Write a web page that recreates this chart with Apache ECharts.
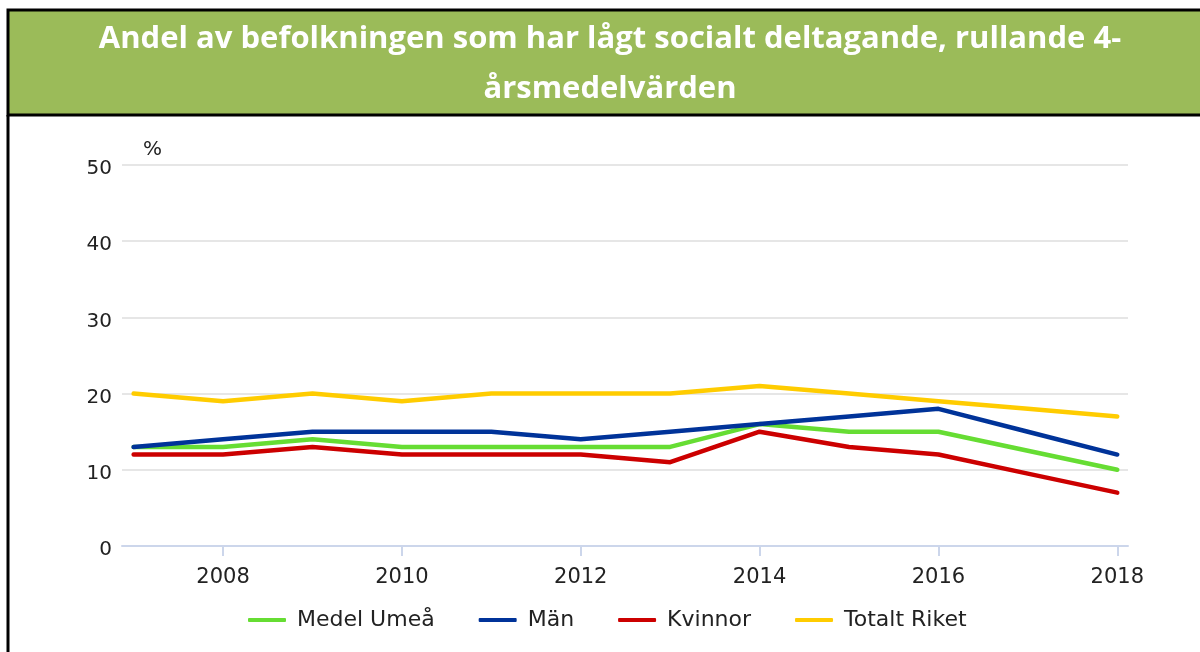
<!DOCTYPE html>
<html>
<head>
<meta charset="utf-8">
<script src="https://cdn.jsdelivr.net/npm/echarts@6/dist/echarts.min.js"></script>
<style>
html,body{margin:0;padding:0;background:#fff;}
#c{width:1200px;height:652px;}
</style>
</head>
<body>
<div id="c"></div>
<script>
const titleText = 'Andel av befolkningen som har lågt socialt deltagande, rullande 4-\nårsmedelvärden';
const years = [2007, 2008, 2009, 2010, 2011, 2012, 2013, 2014, 2015, 2016, 2017, 2018];
const xTickLabels = [2008, 2010, 2012, 2014, 2016, 2018];
const yTicks = [0, 10, 20, 30, 40, 50];
const seriesNames = ['Medel Umeå', 'Män', 'Kvinnor', 'Totalt Riket'];
const medelUmea = [13, 13, 14, 13, 13, 13, 13, 16, 15, 15, 12.5, 10];
const man = [13, 14, 15, 15, 15, 14, 15, 16, 17, 18, 15, 12];
const kvinnor = [12, 12, 13, 12, 12, 12, 11, 15, 13, 12, 9.5, 7];
const totaltRiket = [20, 19, 20, 19, 20, 20, 20, 21, 20, 19, 18, 17];
const colors = ['#66dd33', '#003399', '#cc0000', '#ffcc00'];

const valuesList = [medelUmea, man, kvinnor, totaltRiket];
const chart = echarts.init(document.getElementById('c'), null, {renderer: 'canvas'});
const labelFont = '"DejaVu Sans", Verdana, sans-serif';

chart.setOption({
  animation: false,
  backgroundColor: '#fff',
  graphic: [
    {type: 'rect', shape: {x: 8, y: 10, width: 1200, height: 105},
     style: {fill: '#9bbb59', stroke: '#000', lineWidth: 3}, z: 0},
    {type: 'line', shape: {x1: 8, y1: 115, x2: 8, y2: 660},
     style: {stroke: '#000', lineWidth: 3}, z: 0},
    {type: 'text', x: 610, y: 14, z: 1,
     style: {text: titleText, fill: '#fff', align: 'center', verticalAlign: 'top',
       font: 'bold 31px "Open Sans", "Noto Sans", sans-serif', lineHeight: 50}}
  ],
  legend: {
    bottom: 16,
    left: 243,
    itemWidth: 38,
    itemHeight: 4,
    itemGap: 44,
    icon: 'roundRect',
    textStyle: {fontSize: 22, color: '#222', fontFamily: labelFont, padding: [0, 0, 0, 6]},
    data: seriesNames
  },
  grid: {left: 122, right: 72, top: 165, bottom: 106, containLabel: false},
  xAxis: {
    type: 'value',
    min: 2006.87,
    max: 2018.12,
    splitLine: {show: false},
    axisLine: {show: true, lineStyle: {color: '#ccd6eb', width: 2}},
    axisTick: {show: true, customValues: xTickLabels, length: 10, lineStyle: {color: '#ccd6eb', width: 2}},
    axisLabel: {customValues: xTickLabels, fontSize: 21, color: '#222', margin: 21,
      fontFamily: labelFont, formatter: v => String(v)}
  },
  yAxis: {
    type: 'value',
    min: 0,
    max: 50,
    interval: 10,
    name: '%',
    nameLocation: 'end',
    nameGap: 5,
    nameTextStyle: {fontSize: 20, color: '#222', fontFamily: labelFont, align: 'left', padding: [0, 0, 0, 21]},
    axisLine: {show: false},
    axisTick: {show: false},
    splitLine: {lineStyle: {color: '#e6e6e6', width: 2}},
    axisLabel: {fontSize: 20, color: '#222', margin: 10, fontFamily: labelFont, verticalAlign: 'top', lineHeight: 8}
  },
  series: seriesNames.map((n, i) => ({
    name: n,
    type: 'line',
    data: years.map((y, j) => [y, valuesList[i][j]]),
    symbol: 'none',
    color: colors[i],
    lineStyle: {width: 4.5, color: colors[i], cap: 'round', join: 'round'},
    z: 3 + i
  }))
});
</script>
</body>
</html>
